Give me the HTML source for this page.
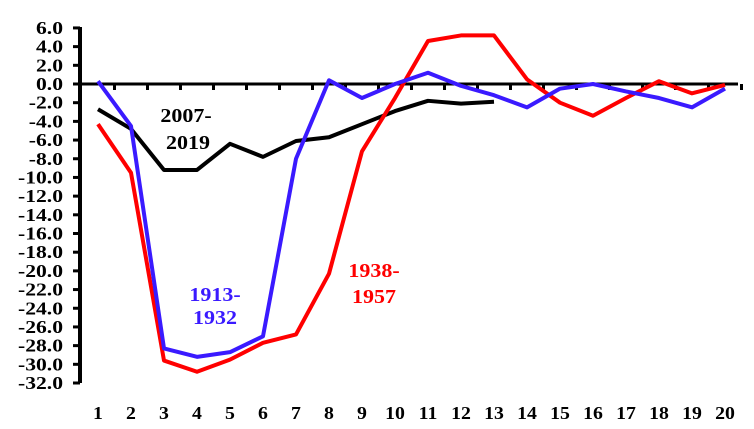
<!DOCTYPE html>
<html><head><meta charset="utf-8"><style>
html,body{margin:0;padding:0;background:#fff;}
svg{display:block;font-family:"Liberation Serif",serif;font-weight:bold;}
</style></head><body>
<svg id="c" width="754" height="429"></svg>
<script>
const categories=[1,2,3,4,5,6,7,8,9,10,11,12,13,14,15,16,17,18,19,20];
const yTicks=[6,4,2,0,-2,-4,-6,-8,-10,-12,-14,-16,-18,-20,-22,-24,-26,-28,-30,-32];
const series1913=[0.3,-4.5,-28.3,-29.2,-28.7,-27,-8,0.4,-1.5,0,1.2,-0.2,-1.2,-2.5,-0.5,0,-0.8,-1.5,-2.5,-0.5];
const series1938=[-4.3,-9.5,-29.6,-30.8,-29.5,-27.7,-26.8,-20.3,-7.2,-1.5,4.6,5.2,5.2,0.5,-2,-3.4,-1.5,0.3,-1,-0.1];
const series2007=[-2.7,-4.8,-9.2,-9.2,-6.4,-7.8,-6.1,-5.7,-4.3,-2.9,-1.8,-2.1,-1.9];
const NS="http://www.w3.org/2000/svg";
const svg=document.getElementById('c');
const X=i=>98+i*33;
const Y=v=>84+(0-v)*(383-84)/32;
function mk(t,a,p){const e=document.createElementNS(NS,t);for(const k in a)e.setAttribute(k,a[k]);(p||svg).appendChild(e);return e;}
function txt(s,x,y,anchor,size,col,sx){
  const g=mk('g',{transform:`translate(${x},${y}) scale(${sx},1)`});
  const t=mk('text',{x:0,y:0,'text-anchor':anchor,'font-size':size,fill:col},g);
  t.textContent=s;
  return t;
}
let ax=mk('line',{x1:80,y1:27,x2:80,y2:Y(-32),stroke:'#000','stroke-width':4});


yTicks.forEach(v=>{
  let t=mk('line',{x1:73,y1:Y(v),x2:80,y2:Y(v),stroke:'#000','stroke-width':3});
  
  
  let l=txt(v.toFixed(1),63,Y(v)+6,'end',18,'#000',1.2);
  
  
});
let xa=mk('line',{x1:80,y1:Y(0),x2:738,y2:Y(0),stroke:'#000','stroke-width':3});


categories.forEach((c,i)=>{
  let t=mk('line',{x1:X(i)+16.5,y1:Y(0),x2:X(i)+16.5,y2:Y(0)+6,stroke:'#000','stroke-width':3});
  
  
  let l=txt(String(c),X(i),419,'middle',18,'#000',1.1);
  
  
});
function line(d,col,name){
  let p=mk('polyline',{points:d.map((v,i)=>X(i)+','+Y(v)).join(' '),fill:'none',stroke:col,'stroke-width':4,'stroke-linejoin':'round'});
  
  
}
line(series2007,'#000','line-2007-2019');
line(series1938,'#ff0000','line-1938-1957');
line(series1913,'#3a1aff','line-1913-1932');
function lab(s,x,y,col,name){
  let t=txt(s,x,y,'middle',20,col,1.1);
  
  
}
lab('2007-',186,122,'#000','label-2007');
lab('2019',188,149,'#000','label-2019');
lab('1913-',215,301,'#3a1aff','label-1913');
lab('1932',215,324,'#3a1aff','label-1932');
lab('1938-',374,277,'#ff0000','label-1938');
lab('1957',374,303,'#ff0000','label-1957');
</script>
</body></html>
